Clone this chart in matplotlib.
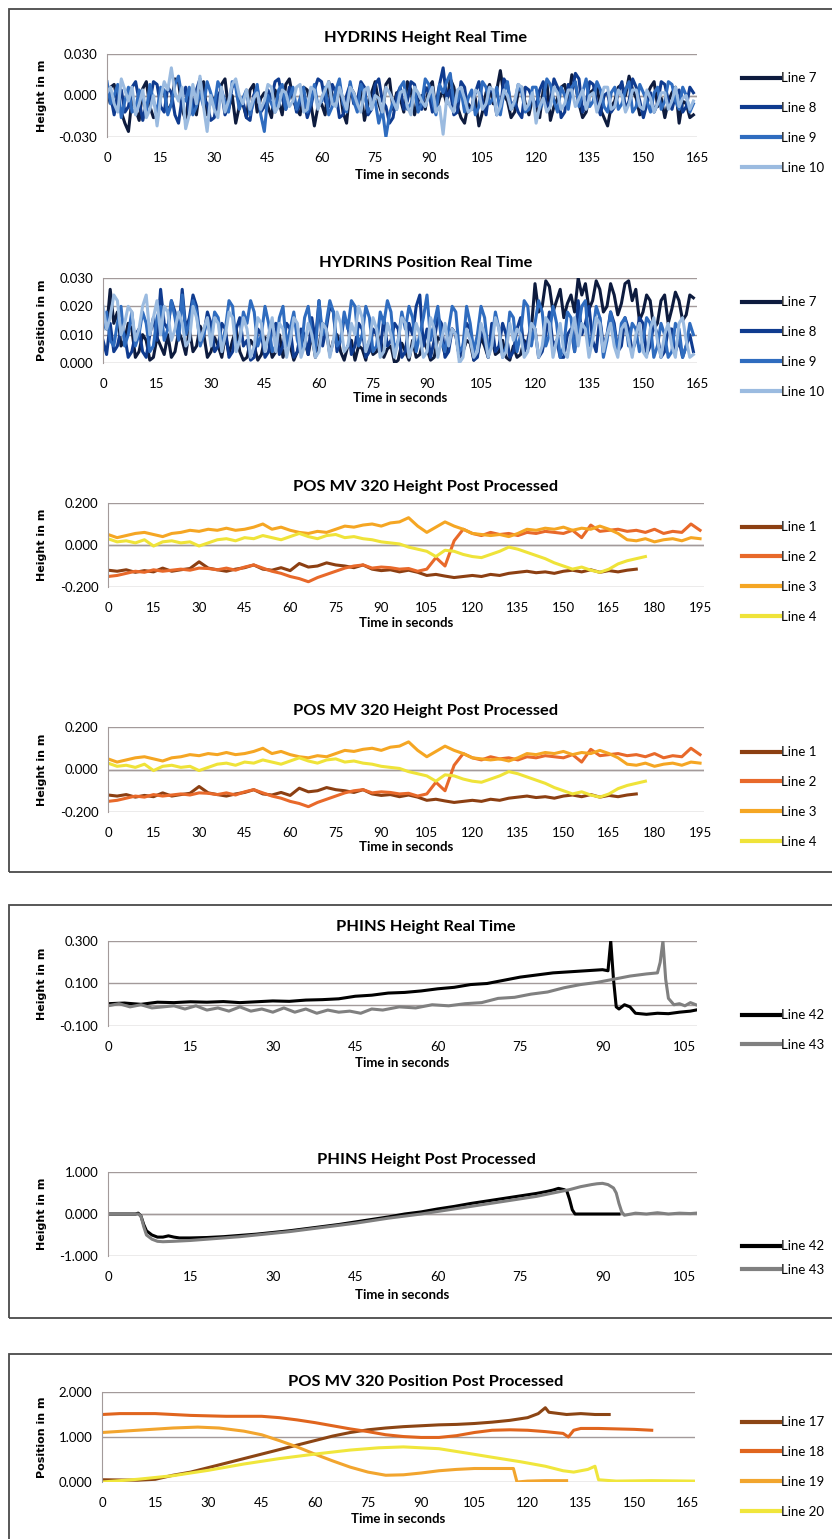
import numpy as np
import matplotlib
matplotlib.use("Agg")
import matplotlib.pyplot as plt
from matplotlib.patches import Rectangle
from matplotlib.ticker import FormatStrFormatter

plt.rcParams['font.family'] = ['Lato', 'DejaVu Sans']
plt.rcParams['axes.unicode_minus'] = False

W, H = 832, 1539

# ---- HYDRINS height real time (mm, one sample per second)
hyd_height_7 = [-5, 6, 8, -4, -12, -20, -26, -2, -10, -18, 5, 10, -8, -16, -15, 4, 3, -12, -6, 12,
                10, -10, -18, 2, -4, -14, 6, 10, -14, -4, -2, -10, 8, 12, -10, 0, -20, -8, -6, -16,
                4, 8, -12, -2, 2, -8, -16, 4, -4, -14, 8, 12, -2, -10, -14, 6, 4, -6, -22, -8,
                -6, -14, 10, 0, -4, 8, -12, -20, 6, 2, -8, 4, -18, -6, 2, 10, -6, -14, 8, 12,
                -10, 2, -2, -12, 10, 4, -14, -4, 0, -10, 6, 10, -12, -2, 4, -6, 12, 6, -8, -16,
                -20, -6, -10, -2, -22, -12, 2, 8, -6, 4, 18, 0, -4, -16, -12, 2, 6, -6, -14, -2,
                -8, -16, 4, 10, -18, -8, -2, 6, 8, -4, 15, 8, -6, -16, -12, 2, 4, 8, -10, -16,
                -22, -8, -4, 6, 8, 0, 14, 4, -2, -14, -12, 0, 6, 10, -8, -2, -16, -4, 2, 6,
                -20, -4, -6, -16, -14]
hyd_height_8 = [6, 0, -14, 2, 4, -12, -8, 6, 10, -4, -18, -6, -4, 10, 8, -8, -12, 6, 2, -14,
                -20, -2, 6, -14, -10, 4, 12, -2, -6, -18, -16, 0, 4, -14, -8, 6, 10, -8, -4, -16,
                -18, 0, 6, -12, -8, 4, -2, 10, 12, -2, -10, 6, 2, -12, -6, -2, -16, -8, 4, 12,
                10, -4, -8, 8, 2, -16, -14, 0, 8, -6, -4, 10, 6, -14, -10, 8, 12, -4, -8, -20,
                -16, 0, 6, -10, -4, 10, 8, -6, -10, 6, 2, -12, -6, 8, 20, -2, 4, -14, -12, 10,
                6, -12, -8, 2, 10, -4, -14, 6, 2, -14, -10, 12, 8, -8, -4, -12, -16, 6, 4, -2,
                -8, 4, 10, -10, -4, 12, 6, -16, -12, 8, 2, 16, 12, -12, -6, 10, 8, -6, -14, 0,
                2, -12, -8, 2, 10, -10, -4, 12, 6, -4, -16, -6, 2, -12, -6, 10, 8, -4, -10, 0,
                4, -12, -8, 6, 2]
hyd_height_9 = [10, -6, 0, 8, -16, -4, 6, -12, -10, 4, -2, -12, 8, -4, -12, 6, 4, -14, -6, 8,
                14, -2, -4, 6, -14, -8, 2, -8, 10, 2, -8, 10, 4, -4, -12, 10, 6, -10, -2, 4,
                -14, -4, 8, -14, -26, 0, -6, -12, 4, 8, -10, -2, 6, -10, -2, 6, -12, -6, 8, -8,
                -4, 6, -14, -8, 4, 12, -6, -12, 10, -4, -12, 8, 2, -12, -8, -4, -20, -10, -30, -14,
                -4, -10, 6, 10, -10, -6, 4, -12, -6, 12, 8, -4, -14, 8, 2, 10, 16, -6, -4, 4,
                -12, -2, 4, -14, -8, 10, 6, -6, -2, 6, -14, 2, 10, -10, -6, 8, 2, -12, -10, 6,
                6, -10, -4, 12, 8, -4, -12, 6, 0, -10, 6, 10, -8, 2, 12, -8, -4, 10, 4, -8,
                -12, 2, 6, -10, -6, 4, 10, -12, -8, 8, 2, -4, -12, 2, 6, -10, -4, 10, 8, -4,
                -10, 6, 0, -12, -6]
hyd_height_10 = [2, 6, -6, -12, 12, 4, -4, 6, -14, -6, 4, -16, -10, 0, -22, -2, 10, 4, 20, 2,
                 -4, 6, -24, -14, 8, -6, 14, -8, -26, 0, -10, -16, 6, -12, -4, 8, 12, 0, -6, 4,
                 -10, -2, 2, -10, -4, 8, 6, -12, -8, 4, 2, -8, -4, 6, 8, -12, -10, 6, 4, -10,
                 -2, 4, 10, -6, -8, 6, -2, -10, 6, 2, -6, -12, 4, 6, -10, 0, -2, -12, 6, 2,
                 -4, -10, 2, 4, -8, -14, 6, 2, -4, -8, 0, 6, -12, -8, -28, -2, -8, -12, 4, 6,
                 -2, -12, -10, 4, 2, -10, -6, 6, 4, -14, -8, 4, 0, -10, -4, 8, 6, -10, -6, 2,
                 -20, -8, -2, -12, -8, 6, 2, -10, -6, 4, 4, -8, -2, 4, -10, 0, 2, -12, -4, 6,
                 6, -10, -8, 4, 0, -12, -6, 4, 4, -8, -10, 4, -2, -12, -6, 2, 2, -10, -4, 6,
                 -8, -2, 0, -10, -4]

# ---- HYDRINS position real time (mm, one sample per second)
hyd_pos_7 = [16, 12, 26, 14, 18, 6, 8, 14, 12, 2, 4, 10, 8, 1, 2, 9, 6, 3, 10, 2,
             4, 11, 8, 3, 12, 4, 6, 13, 10, 2, 4, 9, 6, 2, 10, 3, 8, 12, 4, 1,
             2, 8, 6, 1, 3, 9, 8, 2, 4, 10, 2, 7, 6, 1, 4, 9, 8, 3, 10, 2,
             6, 14, 12, 3, 8, 10, 4, 1, 6, 8, 1, 6, 5, 1, 8, 3, 4, 9, 2, 5,
             6, 0, 1, 7, 4, 1, 8, 2, 3, 8, 5, 1, 2, 9, 8, 3, 6, 12, 10, 2,
             4, 8, 7, 1, 3, 9, 6, 2, 9, 3, 4, 8, 2, 1, 6, 2, 3, 8, 5, 12,
             28, 18, 20, 29, 27, 18, 22, 26, 16, 21, 24, 18, 30, 24, 28, 19, 22, 29, 26, 18,
             20, 28, 24, 17, 21, 28, 29, 22, 26, 15, 18, 24, 22, 12, 14, 22, 24, 14, 19, 25,
             22, 15, 17, 24, 23]
hyd_pos_8 = [8, 3, 14, 4, 6, 12, 10, 2, 4, 10, 12, 4, 2, 10, 16, 8, 26, 14, 12, 22,
             18, 10, 26, 12, 16, 24, 20, 8, 10, 18, 14, 4, 6, 14, 12, 2, 4, 12, 16, 6,
             8, 1, 2, 12, 10, 2, 4, 12, 14, 3, 6, 14, 12, 2, 4, 12, 10, 3, 16, 8,
             22, 6, 12, 20, 18, 4, 8, 16, 14, 3, 6, 14, 12, 2, 4, 12, 10, 4, 16, 6,
             8, 14, 12, 2, 4, 14, 10, 20, 24, 6, 12, 2, 8, 16, 14, 2, 4, 12, 10, 2,
             6, 14, 12, 1, 2, 12, 8, 2, 14, 4, 6, 14, 10, 2, 4, 12, 16, 4, 8, 14,
             12, 2, 4, 10, 18, 6, 8, 2, 2, 10, 12, 4, 22, 10, 14, 20, 8, 4, 16, 6,
             10, 18, 14, 4, 6, 16, 12, 4, 8, 16, 14, 3, 6, 14, 10, 2, 4, 12, 12, 4,
             8, 2, 6, 10, 4]
hyd_pos_9 = [12, 18, 8, 6, 14, 20, 6, 10, 18, 6, 10, 18, 14, 4, 6, 16, 20, 8, 12, 22,
             16, 8, 24, 10, 14, 22, 18, 6, 10, 16, 8, 18, 16, 6, 12, 22, 20, 6, 8, 18,
             14, 22, 18, 6, 10, 20, 14, 4, 6, 16, 20, 6, 12, 18, 8, 4, 16, 20, 10, 4,
             22, 10, 14, 22, 18, 6, 8, 18, 12, 22, 20, 6, 10, 20, 16, 4, 6, 18, 14, 22,
             18, 4, 8, 18, 12, 20, 16, 4, 10, 16, 24, 8, 14, 20, 8, 4, 12, 20, 18, 4,
             6, 20, 14, 4, 10, 20, 16, 4, 8, 18, 12, 2, 6, 18, 16, 4, 10, 22, 20, 6,
             14, 22, 18, 6, 10, 20, 14, 2, 6, 18, 16, 4, 12, 20, 22, 6, 10, 20, 16, 2,
             8, 18, 12, 4, 14, 16, 6, 14, 12, 4, 8, 16, 14, 2, 6, 14, 10, 2, 4, 14,
             12, 2, 6, 14, 10]
hyd_pos_10 = [20, 12, 16, 24, 22, 10, 14, 20, 18, 8, 12, 20, 24, 10, 16, 22, 10, 20, 18, 8,
              12, 18, 14, 6, 8, 20, 16, 8, 12, 16, 6, 16, 14, 4, 10, 18, 16, 4, 8, 16,
              12, 2, 6, 16, 14, 4, 10, 16, 4, 14, 12, 2, 8, 16, 14, 2, 6, 14, 10, 2,
              4, 14, 12, 2, 8, 18, 14, 4, 6, 14, 10, 20, 16, 4, 8, 16, 12, 2, 4, 14,
              10, 2, 8, 16, 14, 2, 6, 14, 10, 2, 4, 16, 12, 2, 8, 14, 6, 12, 10, 0,
              2, 12, 8, 2, 4, 14, 10, 2, 6, 16, 12, 2, 4, 14, 8, 12, 10, 2, 4, 14,
              12, 2, 6, 16, 14, 2, 8, 14, 4, 2, 10, 16, 6, 14, 12, 2, 8, 16, 14, 4,
              10, 14, 6, 2, 12, 14, 8, 2, 10, 14, 4, 2, 12, 16, 8, 2, 10, 14, 6, 2,
              14, 16, 8, 2, 3]

# ---- POS MV 320 height post processed (mm, one sample every 3 s)
posmv_h_1 = [-120, -125, -118, -130, -122, -128, -110, -125, -118, -112, -80, -110, -118, -125, -115,
             -108, -95, -115, -120, -108, -122, -88, -105, -100, -85, -95, -100, -108, -95, -115,
             -122, -118, -128, -120, -130, -145, -140, -148, -155, -150, -145, -150, -140, -145, -135,
             -130, -125, -132, -128, -135, -125, -120, -128, -118, -130, -122, -128, -120, -115]
posmv_h_2 = [-150, -145, -135, -125, -130, -118, -125, -120, -115, -120, -110, -112, -118, -110, -120,
             -105, -95, -110, -125, -135, -150, -160, -175, -155, -140, -125, -110, -100, -95, -110,
             -105, -108, -115, -112, -125, -115, -60, -100, 20, 75, 55, 45, 60, 50, 55,
             45, 60, 55, 65, 60, 55, 70, 35, 95, 65, 70, 75, 65, 70, 60,
             75, 55, 65, 60, 100, 70]
posmv_h_3 = [50, 35, 45, 55, 60, 50, 40, 55, 60, 70, 65, 75, 70, 80, 70,
             75, 85, 100, 75, 85, 70, 60, 55, 65, 60, 75, 90, 85, 95, 100,
             90, 105, 110, 130, 90, 60, 85, 110, 90, 75, 55, 50, 45, 50, 40,
             55, 75, 70, 80, 75, 85, 70, 80, 75, 90, 75, 55, 25, 20, 30,
             15, 25, 30, 20, 35, 30]
posmv_h_4 = [30, 15, 20, 10, 25, -5, 15, 20, 10, 15, -5, 10, 25, 30, 20,
             35, 30, 45, 35, 25, 40, 55, 40, 30, 45, 50, 35, 40, 30, 25,
             15, 10, 5, -10, -20, -30, -55, -25, -30, -45, -55, -60, -45, -30, -10,
             -20, -35, -50, -65, -85, -100, -115, -105, -120, -130, -115, -90, -75, -65, -55]

# ---- PHINS height real time (m)
phins_rt_42_t = [0, 3, 6, 9, 12, 15, 18, 21, 24, 27, 30, 33, 36, 39, 42, 45, 48, 51, 54, 57,
                 60, 63, 66, 69, 72, 75, 78, 81, 84, 87, 90, 91, 91.5, 92, 92.5, 93, 94, 95, 96, 98,
                 100, 102, 104, 106, 107]
phins_rt_42 = [0.005, 0.008, 0.002, 0.012, 0.010, 0.014, 0.012, 0.015, 0.010, 0.014, 0.018, 0.016,
               0.022, 0.024, 0.028, 0.040, 0.045, 0.055, 0.058, 0.065, 0.075, 0.082, 0.095, 0.100,
               0.115, 0.130, 0.140, 0.150, 0.155, 0.160, 0.165, 0.160, 0.300, 0.120, -0.010, -0.020,
               0.000, -0.010, -0.040, -0.045, -0.040, -0.042, -0.035, -0.030, -0.025]
phins_rt_43_t = [0, 2, 4, 6, 8, 10, 12, 14, 16, 18, 20, 22, 24, 26, 28, 30, 32, 34, 36, 38,
                 40, 42, 44, 46, 48, 50, 53, 56, 59, 62, 65, 68, 71, 74, 77, 80, 83, 86, 89, 92,
                 95, 98, 100, 100.5, 101, 101.5, 102, 103, 104, 105, 106, 107]
phins_rt_43 = [-0.005, 0.005, -0.010, 0.000, -0.015, -0.010, -0.005, -0.020, -0.005, -0.025,
               -0.015, -0.030, -0.010, -0.030, -0.020, -0.035, -0.015, -0.035, -0.020, -0.040,
               -0.025, -0.035, -0.030, -0.040, -0.020, -0.025, -0.010, -0.015, 0.000, -0.005,
               0.005, 0.010, 0.030, 0.035, 0.050, 0.060, 0.080, 0.095, 0.105, 0.120,
               0.135, 0.145, 0.150, 0.200, 0.300, 0.120, 0.030, 0.000, 0.005, -0.005, 0.010, 0.000]

# ---- PHINS height post processed (m)
phins_pp_42_t = [0, 5, 5.5, 6, 6.5, 7, 8, 9, 10, 11, 12, 13, 15, 18, 21, 24, 27, 30, 33, 36,
                 39, 42, 45, 48, 51, 54, 57, 60, 63, 66, 69, 72, 75, 78, 80, 81, 82, 83, 83.5, 84,
                 84.5, 85, 87, 90, 93]
phins_pp_42 = [0, 0, 0.02, -0.05, -0.25, -0.4, -0.5, -0.55, -0.55, -0.52, -0.55, -0.57, -0.57,
               -0.56, -0.54, -0.51, -0.48, -0.44, -0.40, -0.35, -0.30, -0.25, -0.19, -0.13, -0.07,
               0.0, 0.05, 0.12, 0.18, 0.25, 0.31, 0.37, 0.43, 0.49, 0.54, 0.57, 0.61, 0.58, 0.55,
               0.35, 0.10, 0.0, 0.0, 0.0, 0.0]
phins_pp_43_t = [0, 5.5, 6, 6.5, 7, 8, 9, 10, 12, 15, 18, 21, 24, 27, 30, 33, 36, 39, 42, 45,
                 48, 51, 54, 57, 60, 63, 66, 69, 72, 75, 78, 81, 84, 86, 88, 89, 90, 91, 92, 92.5,
                 93, 93.5, 94, 96, 98, 100, 102, 104, 106, 107]
phins_pp_43 = [0, 0, -0.05, -0.3, -0.5, -0.6, -0.65, -0.66, -0.65, -0.63, -0.6, -0.57, -0.54,
               -0.5, -0.46, -0.42, -0.37, -0.32, -0.27, -0.22, -0.16, -0.10, -0.05, 0.0, 0.06,
               0.12, 0.18, 0.24, 0.30, 0.36, 0.42, 0.50, 0.58, 0.65, 0.70, 0.72, 0.73, 0.70, 0.62,
               0.50, 0.25, 0.05, -0.03, 0.02, 0.0, 0.03, 0.0, 0.02, 0.01, 0.02]

# ---- POS MV 320 position post processed (m)
posmv_p_17_t = [0, 10, 15, 20, 25, 30, 35, 40, 45, 50, 55, 60, 65, 70, 75, 80, 85, 90, 95, 100,
                105, 110, 115, 120, 123, 125, 126, 128, 131, 135, 139, 143]
posmv_p_17 = [0.05, 0.04, 0.06, 0.15, 0.22, 0.32, 0.42, 0.52, 0.62, 0.72, 0.82, 0.92, 1.02, 1.1,
              1.16, 1.2, 1.23, 1.25, 1.27, 1.28, 1.3, 1.33, 1.37, 1.43, 1.52, 1.65, 1.55, 1.53,
              1.5, 1.52, 1.5, 1.5]
posmv_p_18_t = [0, 5, 15, 25, 35, 45, 50, 55, 60, 65, 70, 75, 80, 85, 90, 95, 100, 105, 110, 115,
                120, 125, 130, 131.5, 133, 135, 140, 145, 150, 155]
posmv_p_18 = [1.5, 1.52, 1.52, 1.48, 1.46, 1.46, 1.43, 1.38, 1.32, 1.25, 1.18, 1.12, 1.05, 1.01,
              0.99, 0.99, 1.03, 1.1, 1.15, 1.16, 1.15, 1.12, 1.08, 1.0, 1.15, 1.19, 1.19, 1.18,
              1.17, 1.15]
posmv_p_19_t = [0, 10, 20, 27, 33, 40, 45, 50, 55, 60, 65, 70, 75, 80, 85, 90, 95, 100, 105, 110,
                115, 116, 117, 120, 125, 131]
posmv_p_19 = [1.1, 1.15, 1.2, 1.22, 1.2, 1.13, 1.05, 0.92, 0.78, 0.62, 0.47, 0.33, 0.22, 0.15,
              0.16, 0.2, 0.25, 0.28, 0.3, 0.3, 0.3, 0.3, 0.0, 0.02, 0.03, 0.03]
posmv_p_20_t = [0, 10, 20, 30, 40, 50, 60, 70, 78, 85, 95, 103, 110, 118, 125, 130, 133, 137,
                139, 140, 145, 155, 167]
posmv_p_20 = [0.0, 0.06, 0.14, 0.26, 0.4, 0.52, 0.62, 0.71, 0.76, 0.78, 0.74, 0.64, 0.55, 0.45,
              0.35, 0.25, 0.22, 0.28, 0.35, 0.05, 0.02, 0.03, 0.02]

blues = ['#0d1b3e', '#0f3b8f', '#2f6cbf', '#9bbbe0']
oranges_h = ['#8c3f12', '#e8692a', '#f5a623', '#efe339']
oranges_p = ['#8c4514', '#e0651e', '#f2a52e', '#f0e63c']
greys = ['#000000', '#808080']
GRID = '#a39a9a'


def every(vals, step, scale=1.0):
    t = np.arange(len(vals)) * step
    return t, np.asarray(vals) * scale


def panel(fig, box, title, title_y, xlabel_y, ylabel, series, labels, colors,
          xlim, xticks, ylim, yticks, leg_y, leg_space, lw=2.2):
    l, t, r, b = box
    ax = fig.add_axes([l / W, 1 - b / H, (r - l) / W, (b - t) / H])
    handles = []
    for (x, y), c in zip(series, colors):
        h, = ax.plot(x, y, color=c, lw=lw, solid_joinstyle='round')
        handles.append(h)
    ax.set_xlim(*xlim)
    ax.set_ylim(*ylim)
    ax.set_xticks(xticks)
    ax.set_yticks(yticks)
    ax.yaxis.set_major_formatter(FormatStrFormatter('%.3f'))
    ax.grid(axis='y', color=GRID, lw=1.0)
    ax.set_axisbelow(True)
    if ylim[0] < 0 < ylim[1]:
        ax.axhline(0, color=GRID, lw=1.0, zorder=0.5)
    for s in ['top', 'right', 'bottom']:
        ax.spines[s].set_visible(False)
    ax.spines['left'].set_color(GRID)
    ax.tick_params(axis='x', length=0, labelsize=9.5, pad=11)
    ax.tick_params(axis='y', length=0, labelsize=9.5, pad=7)
    fig.text(426 / W, 1 - title_y / H, title, ha='center', va='center',
             fontsize=11.8, fontweight='bold')
    fig.text((l + r) / 2 / W, 1 - xlabel_y / H, 'Time in seconds', ha='center',
             va='center', fontsize=9.5, fontweight='bold')
    fig.text(42 / W, 1 - (t + b) / 2 / H, ylabel, ha='center', va='center',
             rotation=90, fontsize=8, fontweight='bold', family='DejaVu Sans')
    leg = ax.legend(handles, labels, loc='center left',
                    bbox_to_anchor=(742 / W, 1 - leg_y / H), bbox_transform=fig.transFigure,
                    frameon=False, fontsize=9.5, handlelength=2.9, handletextpad=0.05,
                    labelspacing=leg_space, borderpad=0, borderaxespad=0)
    for hl in leg.get_lines():
        hl.set_linewidth(3.0)
    return ax


fig = plt.figure(figsize=(W / 100, H / 100), dpi=100)

# frames around the three groups
for top, bottom in [(9, 872), (905, 1318), (1354, 1600)]:
    fig.add_artist(Rectangle((9 / W, 1 - bottom / H), 900 / W, (bottom - top) / H,
                             transform=fig.transFigure, fill=False,
                             edgecolor='#4a4a4a', lw=1.3))

x165 = np.arange(0, 166, 15)
x195 = np.arange(0, 196, 15)
x105 = np.arange(0, 106, 15)

panel(fig, (107, 54, 697, 137), 'HYDRINS Height Real Time', 38, 175, 'Height in m',
      [every(v, 1, 0.001) for v in (hyd_height_7, hyd_height_8, hyd_height_9, hyd_height_10)],
      ['Line 7', 'Line 8', 'Line 9', 'Line 10'], blues,
      (0, 165), x165, (-0.03, 0.03), [-0.03, 0.0, 0.03], 123, 1.35, lw=2.2)

panel(fig, (103, 278, 697, 363), 'HYDRINS Position Real Time', 263, 398, 'Position in m',
      [every(v, 1, 0.001) for v in (hyd_pos_7, hyd_pos_8, hyd_pos_9, hyd_pos_10)],
      ['Line 7', 'Line 8', 'Line 9', 'Line 10'], blues,
      (0, 165), x165, (0, 0.03), [0.0, 0.01, 0.02, 0.03], 347, 1.35, lw=2.2)

for top, bot, ty, xy, ly in [(503, 587, 487, 623, 572), (727, 812, 711, 847, 797)]:
    panel(fig, (108, top, 704, bot), 'POS MV 320 Height Post Processed', ty, xy, 'Height in m',
          [every(v, 3, 0.001) for v in (posmv_h_1, posmv_h_2, posmv_h_3, posmv_h_4)],
          ['Line 1', 'Line 2', 'Line 3', 'Line 4'], oranges_h,
          (0, 196.3), x195, (-0.2, 0.2), [-0.2, 0.0, 0.2], ly, 1.35)

panel(fig, (108, 941, 697, 1026), 'PHINS Height Real Time', 927, 1063, 'Height in m',
      [(phins_rt_42_t, phins_rt_42), (phins_rt_43_t, phins_rt_43)],
      ['Line 42', 'Line 43'], greys,
      (0, 107.2), x105, (-0.1, 0.3), [-0.1, 0.1, 0.3], 1030, 1.3)

panel(fig, (108, 1172, 697, 1256), 'PHINS Height Post Processed', 1160, 1295, 'Height in m',
      [(phins_pp_42_t, phins_pp_42), (phins_pp_43_t, phins_pp_43)],
      ['Line 42', 'Line 43'], greys,
      (0, 107.2), x105, (-1.0, 1.0), [-1.0, 0.0, 1.0], 1258, 0.85)

panel(fig, (102, 1392, 695, 1482), 'POS MV 320 Position Post Processed', 1382, 1519, 'Position in m',
      [(posmv_p_17_t, posmv_p_17), (posmv_p_18_t, posmv_p_18),
       (posmv_p_19_t, posmv_p_19), (posmv_p_20_t, posmv_p_20)],
      ['Line 17', 'Line 18', 'Line 19', 'Line 20'], oranges_p,
      (0, 167.2), x165, (0, 2.0), [0.0, 1.0, 2.0], 1467, 1.35)

fig.savefig('out.png', dpi=100)
